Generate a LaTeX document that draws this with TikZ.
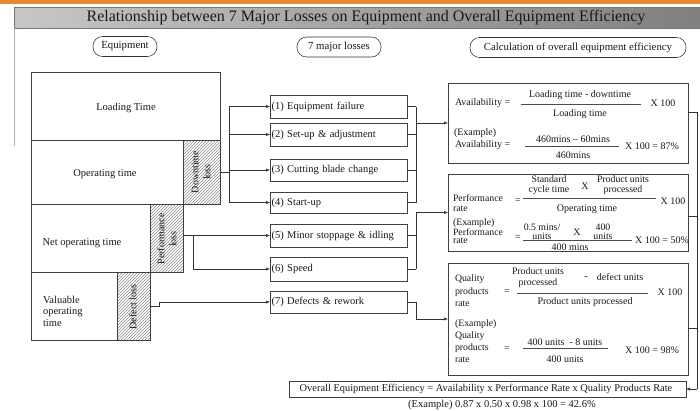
\documentclass[tikz,border=0pt]{standalone}
\usepackage{fontspec}
\setmainfont{Liberation Serif}
\usetikzlibrary{arrows.meta,patterns,calc}
\definecolor{topbar}{HTML}{E68A2E}
\begin{document}
\begin{tikzpicture}[x=1pt,y=-1pt,
  line width=0.55pt,
  every node/.style={inner sep=0pt, outer sep=0pt, font=\fontsize{10}{10}\selectfont, text=black!90},
  frame/.style={draw=black!75, anchor=north west},
  hatched/.style={frame, pattern=north east lines, pattern color=black!45},
  oval/.style={draw=black!80, rounded corners=9.5pt, minimum height=20pt, font=\fontsize{10.8}{11}\selectfont},
  lossbox/.style={frame, minimum width=137pt, minimum height=23pt, text width=134pt, align=left, font=\fontsize{10.5}{11}\selectfont},
  sidelbl/.style={rotate=90, align=center, font=\fontsize{10}{12}\selectfont},
  bigtxt/.style={font=\fontsize{10.5}{11.5}\selectfont},
  ftxt/.style={font=\fontsize{10}{10}\selectfont},
  stack/.style={align=center, font=\fontsize{9.8}{9.8}\selectfont},
  wire/.style={draw=black!80},
  feed/.style={wire, -{Latex[length=4pt,width=3.2pt]}},
  bar/.style={draw=black!70, line width=0.5pt},
]
% page
\fill[white] (0,0) rectangle (700,410);
\useasboundingbox (0,0) rectangle (700,410);
\fill[topbar] (0,0) rectangle (700,4);

% title banner
\node[frame, draw=black!55, minimum width=686pt, minimum height=21pt,
      left color=black!22, middle color=black!4, right color=black!50] (banner) at (14,7) {};
\node[font=\fontsize{16}{16}\selectfont] (title) at (366,17.5)
  {Relationship between 7 Major Losses on Equipment and Overall Equipment Efficiency};
\draw[black!30] (banner.south west) -- ++(0,118);

% column headings
\node[oval, minimum width=64pt] (hEquip) at (125,46.5) {Equipment};
\node[oval, minimum width=84pt] (hLoss) at (339,47) {7 major losses};
\node[oval, minimum width=216pt] (hCalc) at (578,47.5) {Calculation of overall equipment efficiency};

% equipment time blocks
\node[frame, minimum width=189pt, minimum height=68pt] (load) at (31,72) {};
\node[frame, minimum width=152pt, minimum height=64pt] (oper) at (31,140) {};
\node[hatched, minimum width=37pt, minimum height=64pt] (down) at (183,140) {};
\node[frame, minimum width=119pt, minimum height=68pt] (net) at (31,204) {};
\node[hatched, minimum width=33pt, minimum height=68pt] (perfloss) at (150,204) {};
\node[frame, minimum width=86pt, minimum height=68pt] (valu) at (31,272) {};
\node[hatched, minimum width=33pt, minimum height=68pt] (defloss) at (117,272) {};

\node[bigtxt] (loadT) at (126,108) {Loading Time};
\node[bigtxt] (operT) at (105,174) {Operating time};
\node[bigtxt] (netT) at (82,243) {Net operating time};
\node[bigtxt, anchor=west, align=left, font=\fontsize{10.5}{11.5}\selectfont] (valuT) at (43,311) {Valuable\\operating\\time};
\node[sidelbl] (downT) at (201,172) {Downtime\\loss};
\node[sidelbl] (perfT) at (167,239) {Performance\\loss};
\node[sidelbl] (defT) at (133,307) {Defect loss};

% seven major losses
\node[lossbox] (l1) at (270,95) {(1) Equipment failure};
\node[lossbox] (l2) at (270,123) {(2) Set-up \& adjustment};
\node[lossbox, minimum height=22pt] (l3) at (270,159) {(3) Cutting blade change};
\node[lossbox, minimum height=21pt] (l4) at (270,192) {(4) Start-up};
\node[lossbox] (l5) at (270,224) {(5) Minor stoppage \& idling};
\node[lossbox, minimum height=24pt] (l6) at (270,257) {(6) Speed};
\node[lossbox, minimum height=22pt] (l7) at (270,291) {(7) Defects \& rework};

% calculation boxes
\node[frame, minimum width=240pt, minimum height=80pt] (avail) at (448,83) {};
\node[frame, minimum width=240pt, minimum height=77pt] (perf) at (448,174) {};
\node[frame, minimum width=240pt, minimum height=112pt] (qual) at (448,263) {};
\node[frame, minimum width=397pt, minimum height=16pt] (oee) at (289,381) {};
\node[font=\fontsize{10.4}{10.4}\selectfont] (oeeT) at (486,389) {Overall Equipment Efficiency = Availability x Performance Rate x Quality Products Rate};
\node[font=\fontsize{10.5}{10.5}\selectfont] (oeeEx) at (502,405) {(Example) 0.87 x 0.50 x 0.98 x 100 = 42.6\%};

% availability
\node[ftxt, anchor=west] (avA) at (455,103) {Availability =};
\node[ftxt] (avN) at (580,95) {Loading time - downtime};
\draw[bar] (521,104) -- (641,104);
\node[ftxt] (avD) at (580,114) {Loading time};
\node[ftxt] (avX) at (663,103) {X 100};
\node[ftxt, anchor=west] (avE) at (454,133) {(Example)};
\node[ftxt, anchor=west] (avA2) at (455,145) {Availability =};
\node[ftxt] (avN2) at (573,139) {460mins -- 60mins};
\draw[bar] (525,146.5) -- (619,146.5);
\node[ftxt] (avD2) at (573,155) {460mins};
\node[ftxt] (avX2) at (652,146) {X 100 = 87\%};

% performance rate
\node[stack, anchor=west, align=left] (prA) at (453,203) {Performance\\rate};
\node[ftxt] (prEq) at (518,201) {=};
\node[stack] (prS) at (549,185) {Standard\\cycle time};
\node[ftxt] (prX) at (585,186) {X};
\node[stack] (prP) at (623,185) {Product units\\processed};
\draw[bar] (523,198) -- (656,198);
\node[ftxt] (prX100) at (673,201) {X 100};
\node[ftxt] (prD) at (587,209) {Operating time};
\node[stack, anchor=west, align=left, font=\fontsize{9.8}{8.6}\selectfont] (prE) at (453,231) {(Example)\\Performance\\rate};
\node[ftxt] (prEq2) at (518,238) {=};
\node[stack, font=\fontsize{9.8}{9}\selectfont] (prS2) at (542,232) {0.5 mins/\\units};
\node[ftxt] (prX2) at (577,232) {X};
\node[stack, font=\fontsize{9.8}{9}\selectfont] (prP2) at (603,232) {400\\units};
\draw[bar] (523,240.5) -- (632,240.5);
\node[ftxt] (prD2) at (570,247) {400 mins};
\node[ftxt] (prR2) at (662,240) {X 100 = 50\%};

% quality products rate
\node[stack, anchor=west, align=left, font=\fontsize{9.8}{12.5}\selectfont] (qrA) at (455,291) {Quality\\products\\rate};
\node[ftxt] (qrEq) at (507,292) {=};
\node[stack, font=\fontsize{9.8}{11}\selectfont] (qrP) at (538,277.5) {Product units\\processed};
\node[ftxt] (qrM) at (586,278) {-};
\node[ftxt] (qrDf) at (620,277) {defect units};
\draw[bar] (517,293) -- (648,293);
\node[ftxt] (qrD) at (585,302) {Product units processed};
\node[ftxt] (qrX) at (670,292) {X 100};
\node[stack, anchor=west, align=left, font=\fontsize{9.8}{12}\selectfont] (qrE) at (455,341) {(Example)\\Quality\\products\\rate};
\node[ftxt] (qrEq2) at (507,349) {=};
\node[ftxt] (qrN2) at (565,342) {400 units\ \ - 8 units};
\draw[bar] (523,348.5) -- (608,348.5);
\node[ftxt] (qrD2) at (565,359) {400 units};
\node[ftxt] (qrR2) at (652,350) {X 100 = 98\%};

% connectors: equipment losses to the seven losses
\coordinate (busA) at (229,0);
\draw[wire] (down.east) -- (down.east -| busA);
\draw[wire] (l1.west -| busA) -- (l4.west -| busA);
\foreach \n in {l1,l2,l3,l4} \draw[feed] (\n.west -| busA) -- (\n.west);

\coordinate (busB) at (193,0);
\draw[feed] (l5.west -| perfloss.east) -- (l5.west);
\draw[wire] (l5.west -| busB) -- (l6.west -| busB);
\draw[feed] (l6.west -| busB) -- (l6.west);

\draw[feed] (defloss.east) -- ++(9,0) |- (l7.west);

% connectors: seven losses to the calculations
\coordinate (busR) at (416,0);
\foreach \n in {l1,l2,l3,l4,l5,l6} \draw[wire] (\n.east) -- (\n.east -| busR);
\draw[wire] (l1.east -| busR) -- (l4.east -| busR);
\draw[feed] (avail.west -| busR) -- (avail.west);
\draw[wire] (perf.west -| busR) -- (l6.east -| busR);
\draw[feed] (perf.west -| busR) -- (perf.west);
\draw[feed] (l7.east) -- (l7.east -| busR) -- (qual.west -| busR) -- (qual.west);

% connectors: calculations to overall equipment efficiency
\coordinate (busO) at (697,0);
\coordinate (avo) at ($(avail.north east)+(0,29)$);
\coordinate (pfo) at ($(perf.north east)+(0,42)$);
\coordinate (qlo) at ($(qual.north east)+(0,65)$);
\draw[wire] (avo) -- (avo -| busO) -- (oee.east -| busO);
\draw[wire] (pfo) -- (pfo -| busO);
\draw[wire] (qlo) -- (qlo -| busO);
\draw[feed] (oee.east -| busO) -- (oee.east);
\end{tikzpicture}
\end{document}
